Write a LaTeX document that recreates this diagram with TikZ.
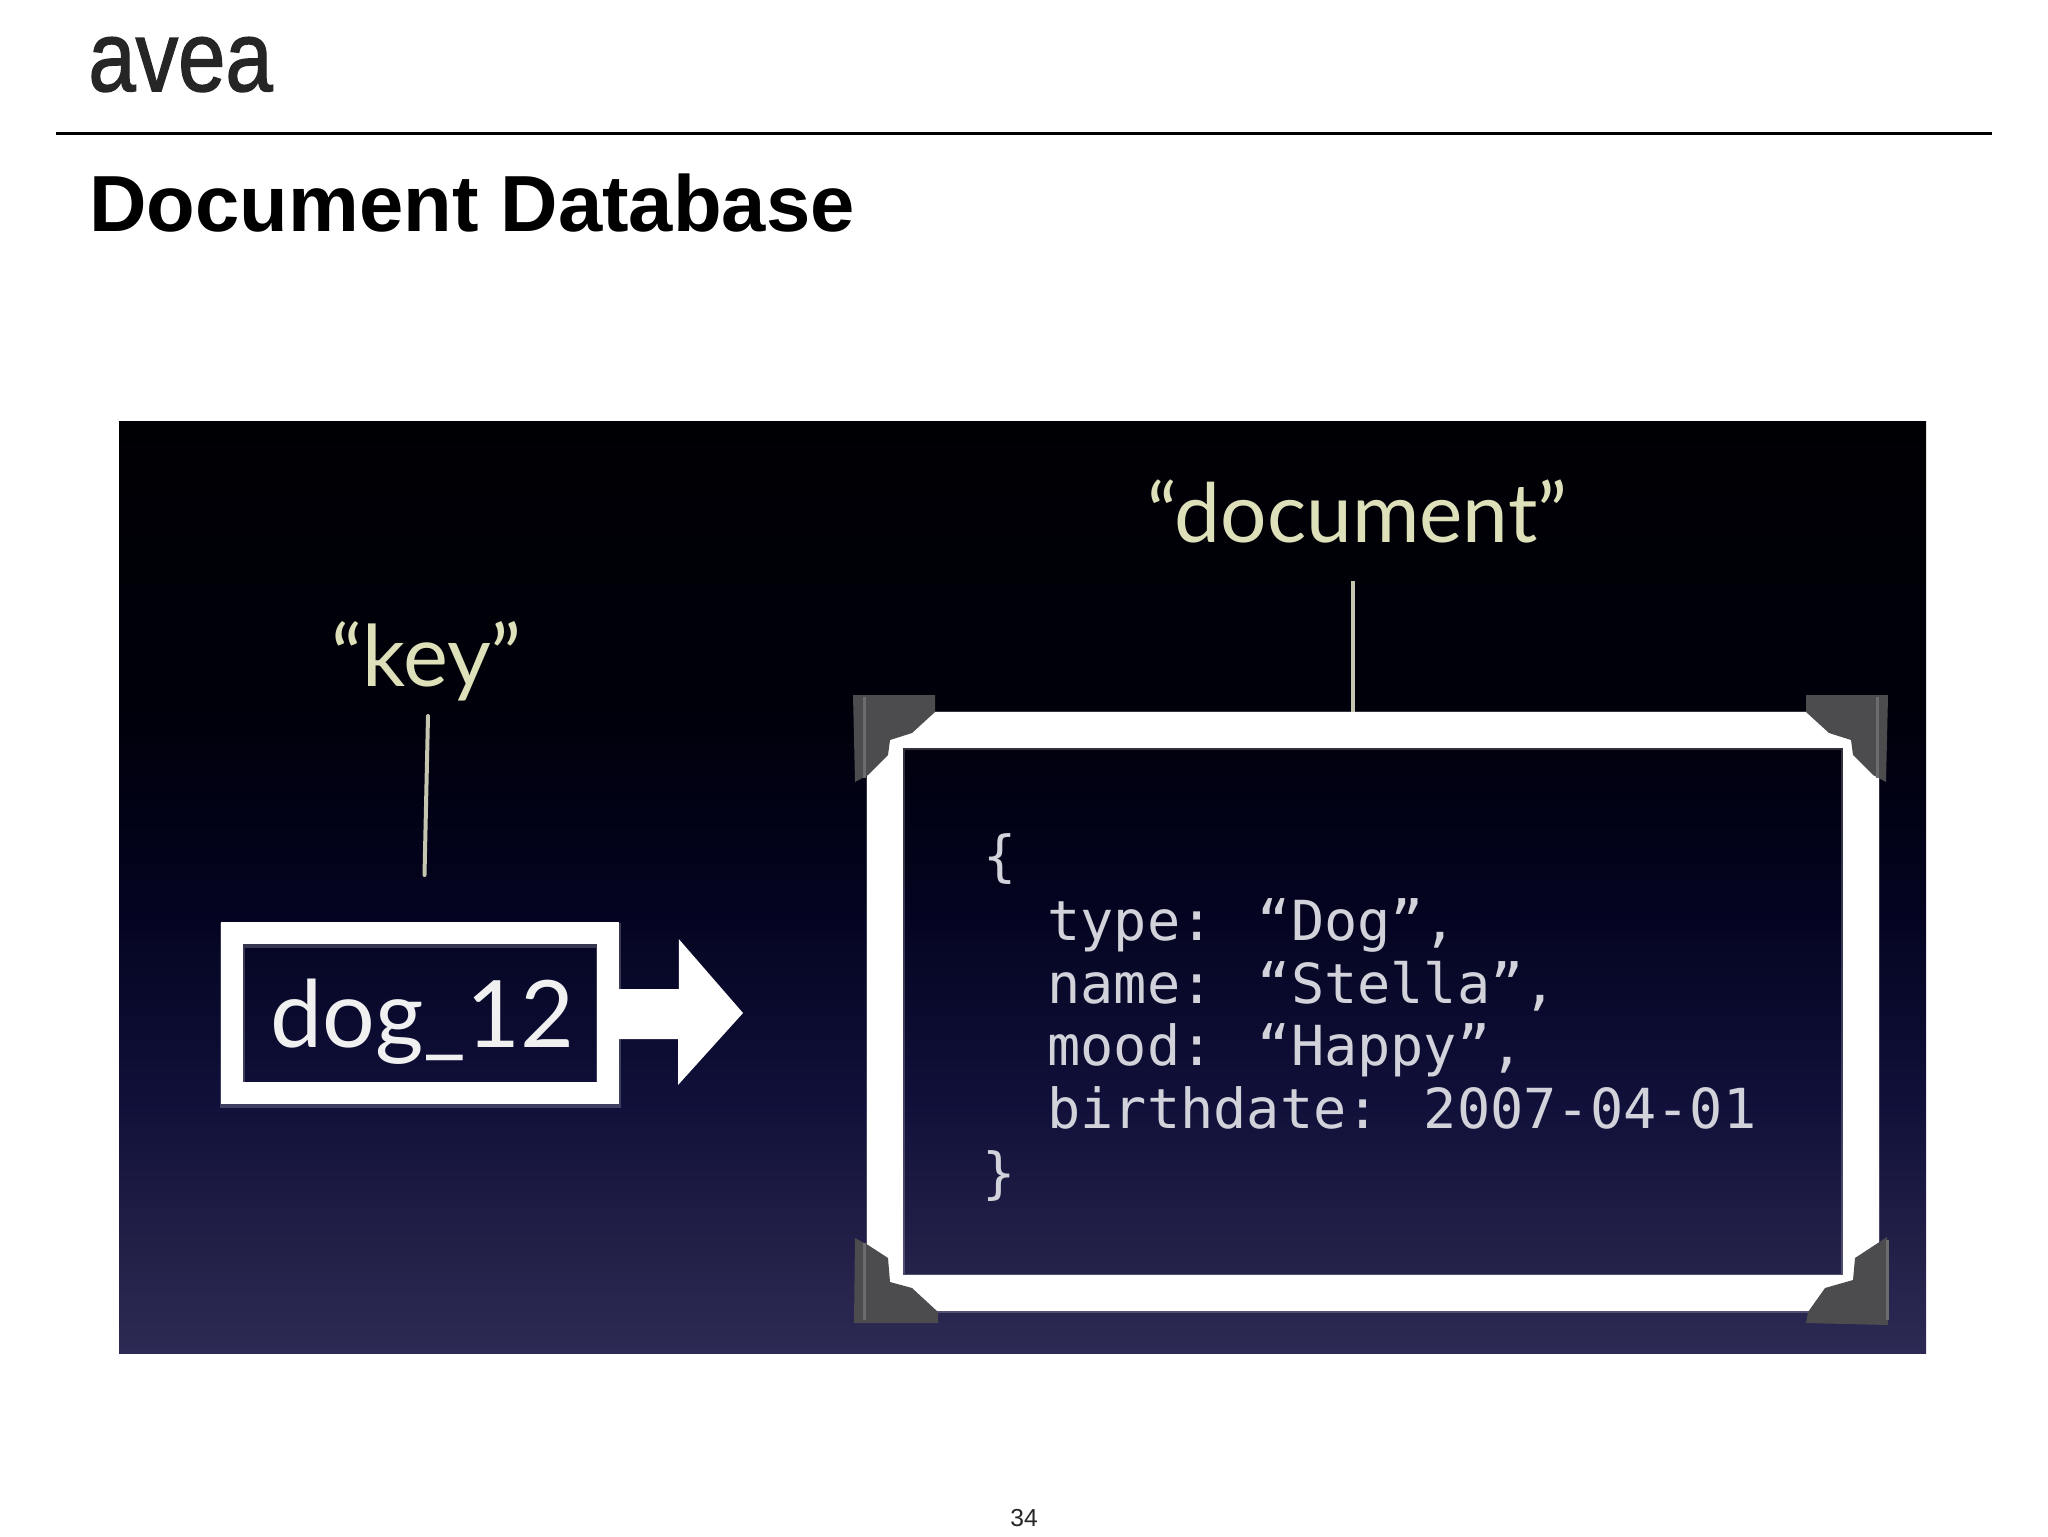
\documentclass[tikz,border=0pt]{standalone}
\usepackage{fontspec}
\setmainfont{Liberation Sans}
\newfontfamily\gill{Lato}
\newfontfamily\monof{DejaVu Sans Mono}
\definecolor{bgtop}{HTML}{000004}
\definecolor{bgb}{HTML}{00000A}
\definecolor{bgc}{HTML}{03031F}
\definecolor{bgd}{HTML}{10103A}
\definecolor{bgn}{HTML}{232048}
\definecolor{bge}{HTML}{2C2A54}
\definecolor{creamtxt}{HTML}{DDE0B8}
\definecolor{leadercol}{HTML}{C6C6B0}
\definecolor{jsontxt}{HTML}{D2D2DA}
\definecolor{cornerfill}{HTML}{4C4C4E}
\definecolor{cornerlite}{HTML}{6C6C6E}
\pgfdeclareverticalshading{bgsh}{100bp}{color(0bp)=(bge); color(25bp)=(bge); color(30.5bp)=(bgn); color(38.5bp)=(bgd); color(49.5bp)=(bgc); color(60bp)=(bgb); color(75bp)=(bgtop); color(100bp)=(bgtop)}
\tikzset{
  x=0.5pt,y=-0.5pt,
  frame/.style={draw=white,inner sep=0pt,fill=none},
  framehalo/.style={draw=white,draw opacity=.2,inner sep=0pt,fill=none},
  leader/.style={draw=leadercol,line width=2pt,line cap=round},
  quoted/.style={text=creamtxt,inner sep=0pt,anchor=base west,font=\gill\fontsize{41}{41}\selectfont},
  json/.style={text=jsontxt,inner sep=0pt,anchor=base west,font=\monof\fontsize{27.6}{30}\selectfont},
  corner/.style={fill=cornerfill},
  cornerstripe/.style={draw=cornerlite,line width=1.5pt},
}
\begin{document}
\begin{tikzpicture}
\useasboundingbox (0,0) rectangle (2048,1536);
\fill[white] (0,0) rectangle (2048,1536);
% header
\node[inner sep=0pt,anchor=base west,text=black!85] (logo) at (88,91) {\scalebox{.85}[1]{\fontspec{Liberation Sans}[FakeBold=1.5]\fontsize{50}{50}\selectfont avea}};
\draw[line width=1.5pt,black] (56,133) -- (1992,133);
\node[inner sep=0pt,anchor=base west] (title) at (89,231) {\fontsize{39.8}{42}\selectfont\bfseries Document Database};
% image
\path[shading=bgsh] (119,421) rectangle (1926,1353);
% labels
\node[quoted] (doclabel) at (1147,542) {“document”};
\node[quoted,font=\gill\fontsize{42.5}{42.5}\selectfont] (keylabel) at (331,686) {“key”};
\coordinate (doctop) at (1353,581);
\coordinate (keytop) at (428,716);
\coordinate (keyfoot) at (424.5,875);
% key box
\node[framehalo,line width=12.5pt,minimum width=188pt,minimum height=80pt] at (420,1015) {};
\node[frame,line width=10.75pt,minimum width=188pt,minimum height=80pt] (keybox) at (420,1013) {};
\fill[white] ([yshift=12pt]keybox.east) -- ++(60,0) -- ++(0,-50) -- (743,1013) -- (678,1085) -- (678,1039) -- ([yshift=-13pt]keybox.east) -- cycle;
\node[inner sep=0pt,anchor=base west,text=white!94!black,font=\gill\fontsize{46.5}{46.5}\selectfont] (keytext) at (270,1047) {dog\_12};
\draw[leader] (keytop) -- (keyfoot);
% document frame
\node[framehalo,line width=19.5pt,minimum width=487.75pt,minimum height=281.25pt] at (1372.75,1012) {};
\node[frame,line width=18pt,minimum width=487.75pt,minimum height=281.25pt] (docframe) at (1372.75,1011.25) {};
\draw[leader,line cap=butt] (doctop) -- (docframe.north -| doctop);
% corners
\fill[corner] (853,695) -- (935,695) -- (935,712) -- (912,733) -- (890,740) -- (888,755) -- (868,775) -- (855,782) -- cycle;
\draw[cornerstripe] (864,697) -- (864,778);
\fill[corner] (1888,695) -- (1806,695) -- (1806,712) -- (1829,733) -- (1851,740) -- (1853,755) -- (1873,775) -- (1886,782) -- cycle;
\draw[cornerstripe] (1877,697) -- (1877,778);
\fill[corner] (854,1323) -- (938,1323) -- (938,1312) -- (912,1288) -- (890,1282) -- (888,1258) -- (868,1245) -- (855,1238) -- cycle;
\draw[cornerstripe] (864,1243) -- (864,1320);
\fill[corner] (1888,1325) -- (1806,1323) -- (1808,1312) -- (1825,1288) -- (1853,1280) -- (1855,1258) -- (1887,1237) -- cycle;
\draw[cornerstripe] (1887,1240) -- (1887,1320);
% JSON
\node[json] (open) at (983,875) {\{};
\node[json] (jtype) at (1047,940) {type:  “Dog”,};
\node[json] (jname) at (1047,1003) {name:  “Stella”,};
\node[json] (jmood) at (1047,1065) {mood:  “Happy”,};
\node[json] (jbirth) at (1047,1128) {birthdate: 2007-04-01};
\node[json] (close) at (982,1192) {\}};
% page number
\node[inner sep=0pt,font=\fontsize{12.3}{14}\selectfont,text=black!85] (page) at (1024,1518) {34};
\end{tikzpicture}
\end{document}
